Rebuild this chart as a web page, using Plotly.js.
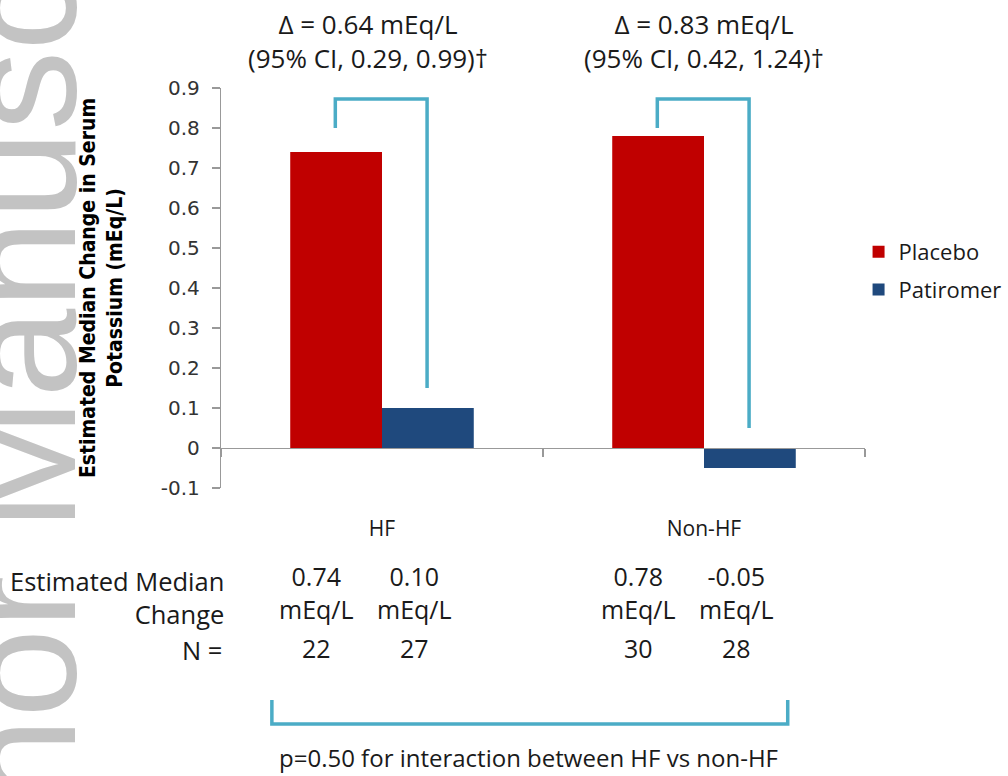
<!DOCTYPE html>
<html>
<head>
<meta charset="utf-8">
<script src="https://cdn.plot.ly/plotly-3.0.1.min.js"></script>
<style>html,body{margin:0;padding:0;background:#fff;}#chart{width:1008px;height:776px;}</style>
</head>
<body>
<div id="chart"></div>
<script>
// ---- data ----
const categories = ['HF', 'Non-HF'];
const seriesNames = ['Placebo', 'Patiromer'];
const placebo = [0.74, 0.78];
const patiromer = [0.10, -0.05];
const nPlacebo = [22, 30];
const nPatiromer = [27, 28];
const deltas = [0.64, 0.83];
const ciLow = [0.29, 0.42];
const ciHigh = [0.99, 1.24];
const yTicks = [-0.1, 0, 0.1, 0.2, 0.3, 0.4, 0.5, 0.6, 0.7, 0.8, 0.9];
const interactionP = 0.50;
const yTitle = 'Estimated Median Change in Serum<br>Potassium (mEq/L)';
const watermark = 'Author Manuscript';

// ---- styles ----
const FONT = 'Open Sans, Noto Sans, sans-serif';
const TXT = '#1a1a1a';
const BRACKET = '#4bacc6';
const colors = ['#c00000', '#1f497d'];

const traces = [
  {type: 'bar', name: seriesNames[0], x: categories, y: placebo, marker: {color: colors[0]}, legendgroup: 'a', hoverinfo: 'none'},
  {type: 'bar', name: seriesNames[1], x: categories, y: patiromer, marker: {color: colors[1]}, legendgroup: 'b', hoverinfo: 'none'}
];

const annotations = [];
const shapes = [];

// watermark
annotations.push({text: watermark, xref: 'paper', yref: 'paper', x: -0.314, y: 0.225,
  xanchor: 'center', yanchor: 'middle', textangle: -90, showarrow: false,
  font: {family: 'Liberation Sans, Arial, sans-serif', size: 160, color: '#c3c3c3'}});

const fmt = v => v.toFixed(2);
const leftOff = -0.145, rightOff = 0.14, topY = 0.8725;
categories.forEach((c, i) => {
  // delta / CI text
  annotations.push({text: 'Δ = ' + fmt(deltas[i]) + ' mEq/L<br>(95% CI, ' + fmt(ciLow[i]) + ', ' + fmt(ciHigh[i]) + ')†',
    xref: 'x', yref: 'paper', x: i, xshift: i === 0 ? -14 : 0, y: 1.1175, xanchor: 'center', yanchor: 'middle',
    showarrow: false, font: {family: FONT, size: 26, color: TXT}});
  // bracket
  const lb = 0.80, rb = Math.max(patiromer[i], 0) + 0.05;
  shapes.push({type: 'path', xref: 'x', yref: 'y', layer: 'above',
    path: 'M' + (i + leftOff) + ',' + lb + ' L' + (i + leftOff) + ',' + topY + ' L' + (i + rightOff) + ',' + topY + ' L' + (i + rightOff) + ',' + rb,
    line: {color: BRACKET, width: 3.5}});
  // table values
  annotations.push({text: fmt(placebo[i]) + '<br>mEq/L', xref: 'x', yref: 'paper', x: i - 0.202, y: -0.26,
    xanchor: 'center', yanchor: 'middle', showarrow: false, font: {family: FONT, size: 25, color: TXT}});
  annotations.push({text: fmt(patiromer[i]) + '<br>mEq/L', xref: 'x', yref: 'paper', x: i + 0.102, y: -0.26,
    xanchor: 'center', yanchor: 'middle', showarrow: false, font: {family: FONT, size: 25, color: TXT}});
  annotations.push({text: String(nPlacebo[i]), xref: 'x', yref: 'paper', x: i - 0.202, y: -0.40,
    xanchor: 'center', yanchor: 'middle', showarrow: false, font: {family: FONT, size: 25, color: TXT}});
  annotations.push({text: String(nPatiromer[i]), xref: 'x', yref: 'paper', x: i + 0.102, y: -0.40,
    xanchor: 'center', yanchor: 'middle', showarrow: false, font: {family: FONT, size: 25, color: TXT}});
});

annotations.push({text: 'Estimated Median<br>Change', xref: 'paper', yref: 'paper', x: 0.008, y: -0.2725,
  xanchor: 'right', yanchor: 'middle', align: 'right', showarrow: false, font: {family: FONT, size: 25.5, color: TXT}});
annotations.push({text: 'N =', xref: 'paper', yref: 'paper', x: 0.005, y: -0.405,
  xanchor: 'right', yanchor: 'middle', align: 'right', showarrow: false, font: {family: FONT, size: 25.5, color: TXT}});
annotations.push({text: 'p=' + fmt(interactionP) + ' for interaction between HF vs non-HF', xref: 'paper', yref: 'paper',
  x: 0.477, y: -0.6725, xanchor: 'center', yanchor: 'middle', showarrow: false, font: {family: FONT, size: 24, color: TXT}});

// bottom bracket
shapes.push({type: 'path', xref: 'paper', yref: 'paper', layer: 'above',
  path: 'M0.079,-0.53 L0.079,-0.59 L0.880,-0.59 L0.880,-0.53', line: {color: BRACKET, width: 3.5}});

const layout = {
  width: 1008, height: 776,
  margin: {l: 221, r: 143, t: 88, b: 288, pad: 0, autoexpand: false},
  paper_bgcolor: '#fff', plot_bgcolor: '#fff',
  barmode: 'group', bargap: 0.43, bargroupgap: 0,
  showlegend: true,
  legend: {x: 0.99, y: 0.6425, xanchor: 'left', yanchor: 'top', tracegroupgap: 6,
    font: {family: FONT, size: 22, color: TXT}, bgcolor: 'rgba(0,0,0,0)'},
  xaxis: {type: 'category', anchor: 'free', position: 0.1, showline: true, linecolor: '#999', linewidth: 1.2,
    ticks: 'outside', tickson: 'boundaries', ticklen: 8, tickcolor: '#999', tickwidth: 1.2,
    showgrid: false, zeroline: false, ticklabelstandoff: 62,
    tickfont: {family: FONT, size: 21, color: TXT}, fixedrange: true},
  yaxis: {range: [-0.1, 0.9], tickmode: 'array', tickvals: yTicks, ticktext: yTicks.map(String),
    showline: true, linecolor: '#999', linewidth: 1.2, ticks: 'outside', ticklen: 8, tickcolor: '#999', tickwidth: 1.2,
    showgrid: false, zeroline: false, ticklabelstandoff: 8,
    tickfont: {family: 'DejaVu Sans, Verdana, sans-serif', size: 20, color: '#333'},
    title: {text: yTitle, standoff: 32, font: {family: 'DejaVu Sans Condensed, Liberation Sans Narrow, sans-serif', size: 21, color: '#000', weight: 'bold'}},
    fixedrange: true},
  annotations: annotations,
  shapes: shapes
};

Plotly.newPlot('chart', traces, layout, {displayModeBar: false, staticPlot: true});
</script>
</body>
</html>
